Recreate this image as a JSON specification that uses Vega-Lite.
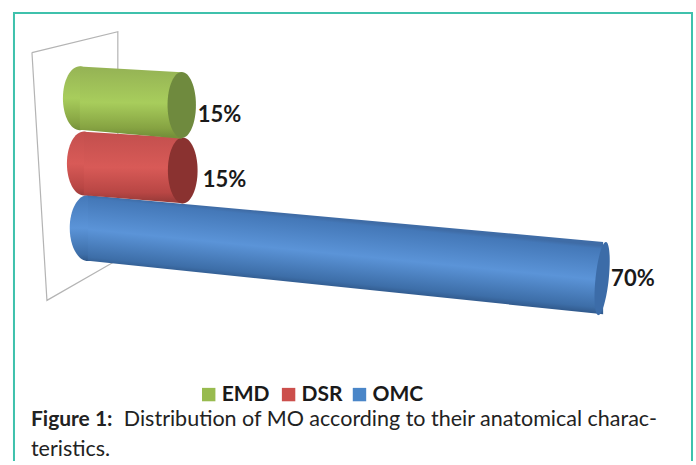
{"$schema":"https://vega.github.io/schema/vega-lite/v6.json","width":696,"height":465,"autosize":{"type":"fit","contains":"padding"},"padding":0,"background":"white","config":{"view":{"stroke":null},"axis":{"domain":false,"grid":false,"ticks":false,"labels":false,"title":null}},
"datasets":{
"outline":[{"name":"border","i":0,"x":14,"y":465},{"name":"border","i":1,"x":14,"y":13},{"name":"border","i":2,"x":693,"y":13},{"name":"border","i":3,"x":693,"y":465},
{"name":"wall","i":0,"x":32,"y":53},{"name":"wall","i":1,"x":118,"y":32},{"name":"wall","i":2,"x":118,"y":262},{"name":"wall","i":3,"x":47,"y":303},{"name":"wall","i":4,"x":32,"y":53}],
"body":[{"series":"OMC","x":88,"top":197,"bottom":263},{"series":"OMC","x":604,"top":244,"bottom":317},{"series":"DSR","x":84,"top":133,"bottom":197},{"series":"DSR","x":183,"top":139,"bottom":205},{"series":"EMD","x":80,"top":67,"bottom":131},{"series":"EMD","x":182,"top":73,"bottom":140}],
"ends":[{"series":"OMC","xl":88,"yl":230,"xr":603,"yr":281,"label":"70%","xt":612,"yt":281},{"series":"DSR","xl":84,"yl":165,"xr":183,"yr":172,"label":"15%","xt":203,"yt":182},{"series":"EMD","xl":80,"yl":99,"xr":182,"yr":106,"label":"15%","xt":198,"yt":116}],
"legend":[{"series":"EMD","xs":209,"xt":222},{"series":"DSR","xs":289,"xt":302},{"series":"OMC","xs":360,"xt":373}],
"caption":[{"text":"Distribution of MO according to their anatomical charac-","x":124,"y":424},{"text":"teristics.","x":31,"y":454}]
},
"encoding":{"x":{"type":"quantitative","scale":{"domain":[0,696],"nice":false,"zero":false},"axis":null},"y":{"type":"quantitative","scale":{"domain":[465,0],"nice":false,"zero":false},"axis":null}},
"layer":[
{"data":{"name":"outline"},"transform":[{"filter":"datum.name==='border'"}],"mark":{"type":"line","stroke":"#3fc1ac","strokeWidth":2,"clip":false},"encoding":{"x":{"field":"x","type":"quantitative"},"y":{"field":"y","type":"quantitative"},"order":{"field":"i"}}},
{"data":{"name":"outline"},"transform":[{"filter":"datum.name==='wall'"}],"mark":{"type":"line","stroke":"#b4b4b4","strokeWidth":1.2},"encoding":{"x":{"field":"x","type":"quantitative"},"y":{"field":"y","type":"quantitative"},"order":{"field":"i"}}},

{"data":{"name":"ends"},"transform":[{"filter":"datum.series==='OMC'"}],"mark":{"type":"point","filled":true,"opacity":1,"size":4356,"shape":"M-0.55,0A0.55,1,0,1,1,0.55,0A0.55,1,0,1,1,-0.55,0Z","fill":{"gradient":"linear","x1":0.5,"y1":0,"x2":0.5,"y2":1,"stops":[{"offset":0,"color":"#4478b8"},{"offset":0.5,"color":"#5b94d8"},{"offset":0.9,"color":"#3d6ea8"},{"offset":1,"color":"#30588a"}]},"stroke":null},"encoding":{"x":{"field":"xl","type":"quantitative"},"y":{"field":"yl","type":"quantitative"}}},
{"data":{"name":"body"},"transform":[{"filter":"datum.series==='OMC'"}],"mark":{"type":"area","fill":{"gradient":"linear","x1":0.5,"y1":0.21,"x2":0.29,"y2":0.7,"stops":[{"offset":0,"color":"#3f6ca6"},{"offset":0.05,"color":"#4478b8"},{"offset":0.5,"color":"#5b94d8"},{"offset":0.9,"color":"#3d6ea8"},{"offset":1,"color":"#30588a"}]}},"encoding":{"x":{"field":"x","type":"quantitative"},"y":{"field":"top","type":"quantitative"},"y2":{"field":"bottom"}}},
{"data":{"name":"ends"},"transform":[{"filter":"datum.series==='OMC'"}],"mark":{"type":"point","filled":true,"opacity":1,"size":5400,"angle":6,"shape":"M-0.18,0A0.18,1,0,1,1,0.18,0A0.18,1,0,1,1,-0.18,0Z","fill":"#3c6ca8","stroke":null},"encoding":{"x":{"field":"xr","type":"quantitative"},"y":{"field":"yr","type":"quantitative"}}},

{"data":{"name":"ends"},"transform":[{"filter":"datum.series==='DSR'"}],"mark":{"type":"point","filled":true,"opacity":1,"size":4096,"shape":"M-0.53,0A0.53,1,0,1,1,0.53,0A0.53,1,0,1,1,-0.53,0Z","fill":{"gradient":"linear","x1":0.5,"y1":0,"x2":0.5,"y2":1,"stops":[{"offset":0,"color":"#c4504e"},{"offset":0.5,"color":"#d85a57"},{"offset":0.88,"color":"#b84644"},{"offset":1,"color":"#9c3c3a"}]},"stroke":null},"encoding":{"x":{"field":"xl","type":"quantitative"},"y":{"field":"yl","type":"quantitative"}}},
{"data":{"name":"body"},"transform":[{"filter":"datum.series==='DSR'"}],"mark":{"type":"area","fill":{"gradient":"linear","x1":0.5,"y1":0.04,"x2":0.49,"y2":0.96,"stops":[{"offset":0,"color":"#c4504e"},{"offset":0.5,"color":"#d85a57"},{"offset":0.88,"color":"#b84644"},{"offset":1,"color":"#9c3c3a"}]}},"encoding":{"x":{"field":"x","type":"quantitative"},"y":{"field":"top","type":"quantitative"},"y2":{"field":"bottom"}}},
{"data":{"name":"ends"},"transform":[{"filter":"datum.series==='DSR'"}],"mark":{"type":"point","filled":true,"opacity":1,"size":4356,"shape":"M-0.45,0A0.45,1,0,1,1,0.45,0A0.45,1,0,1,1,-0.45,0Z","fill":"#8a3230","stroke":null},"encoding":{"x":{"field":"xr","type":"quantitative"},"y":{"field":"yr","type":"quantitative"}}},

{"data":{"name":"ends"},"transform":[{"filter":"datum.series==='EMD'"}],"mark":{"type":"point","filled":true,"opacity":1,"size":4096,"shape":"M-0.53,0A0.53,1,0,1,1,0.53,0A0.53,1,0,1,1,-0.53,0Z","fill":{"gradient":"linear","x1":0.5,"y1":0,"x2":0.5,"y2":1,"stops":[{"offset":0,"color":"#96b455"},{"offset":0.5,"color":"#a8cd5c"},{"offset":0.88,"color":"#86a342"},{"offset":1,"color":"#74903a"}]},"stroke":null},"encoding":{"x":{"field":"xl","type":"quantitative"},"y":{"field":"yl","type":"quantitative"}}},
{"data":{"name":"body"},"transform":[{"filter":"datum.series==='EMD'"}],"mark":{"type":"area","fill":{"gradient":"linear","x1":0.5,"y1":0.04,"x2":0.49,"y2":0.96,"stops":[{"offset":0,"color":"#96b455"},{"offset":0.5,"color":"#a8cd5c"},{"offset":0.88,"color":"#86a342"},{"offset":1,"color":"#74903a"}]}},"encoding":{"x":{"field":"x","type":"quantitative"},"y":{"field":"top","type":"quantitative"},"y2":{"field":"bottom"}}},
{"data":{"name":"ends"},"transform":[{"filter":"datum.series==='EMD'"}],"mark":{"type":"point","filled":true,"opacity":1,"size":4356,"shape":"M-0.43,0A0.43,1,0,1,1,0.43,0A0.43,1,0,1,1,-0.43,0Z","fill":"#6f8a3e","stroke":null},"encoding":{"x":{"field":"xr","type":"quantitative"},"y":{"field":"yr","type":"quantitative"}}},

{"data":{"name":"ends"},"mark":{"type":"text","font":"Lato","fontWeight":"bold","fontSize":22,"align":"left","baseline":"middle","color":"#1a1a1a"},"encoding":{"x":{"field":"xt","type":"quantitative"},"y":{"field":"yt","type":"quantitative"},"text":{"field":"label"}}},

{"data":{"name":"legend"},"mark":{"type":"point","shape":"square","filled":true,"opacity":1,"size":180},"encoding":{"x":{"field":"xs","type":"quantitative"},"y":{"datum":398,"type":"quantitative"},"color":{"field":"series","scale":{"domain":["EMD","DSR","OMC"],"range":["#98bb4f","#cc4f4c","#4a86c8"]},"legend":null}}},
{"data":{"name":"legend"},"mark":{"type":"text","font":"Lato","fontWeight":"bold","fontSize":21,"align":"left","baseline":"middle","color":"#1a1a1a"},"encoding":{"x":{"field":"xt","type":"quantitative"},"y":{"datum":398,"type":"quantitative"},"text":{"field":"series"}}},

{"data":{"values":[{"text":"Figure 1:","x":31,"y":424}]},"mark":{"type":"text","font":"Lato","fontWeight":"bold","fontSize":21,"align":"left","baseline":"middle","color":"#222222"},"encoding":{"x":{"field":"x","type":"quantitative"},"y":{"field":"y","type":"quantitative"},"text":{"field":"text"}}},
{"data":{"name":"caption"},"mark":{"type":"text","font":"Lato","fontSize":21.5,"align":"left","baseline":"middle","color":"#222222"},"encoding":{"x":{"field":"x","type":"quantitative"},"y":{"field":"y","type":"quantitative"},"text":{"field":"text"}}}
]}
